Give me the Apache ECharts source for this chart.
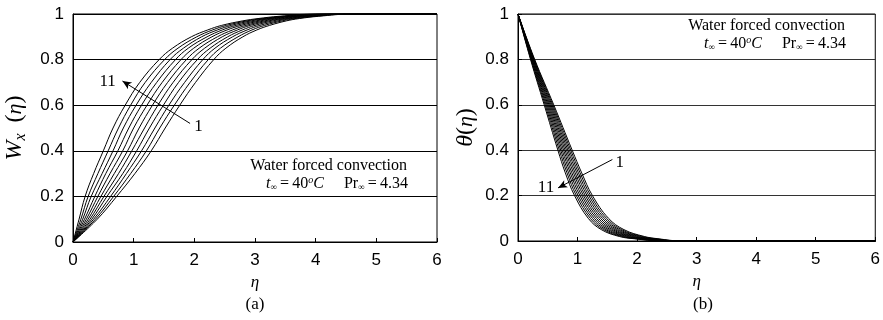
<!DOCTYPE html>
<html>
<head>
<meta charset="utf-8">
<script src="https://cdn.jsdelivr.net/npm/echarts@6/dist/echarts.min.js"></script>
<style>
  html, body { margin: 0; padding: 0; background: #fff; }
  #chart { width: 883px; height: 320px; }
</style>
</head>
<body>
<div id="chart"></div>
<script>
// (a) velocity W_x: eta where each curve (1 .. 11) reaches the W level
const wLevels = [0, 0.1, 0.2, 0.3, 0.4, 0.5, 0.6, 0.7, 0.8, 0.85, 0.9, 0.93, 0.95, 0.97, 0.98, 0.99, 1, 1];
const wxEtaByLevel = [
  [0, 0, 0, 0, 0, 0, 0, 0, 0, 0, 0],
  [0.40, 0.37, 0.34, 0.31, 0.28, 0.25, 0.22, 0.19, 0.16, 0.13, 0.10],
  [0.72, 0.67, 0.62, 0.56, 0.51, 0.46, 0.41, 0.36, 0.30, 0.25, 0.20],
  [1.02, 0.95, 0.88, 0.82, 0.75, 0.68, 0.61, 0.54, 0.48, 0.41, 0.34],
  [1.29, 1.21, 1.13, 1.05, 0.97, 0.90, 0.82, 0.74, 0.66, 0.58, 0.50],
  [1.52, 1.43, 1.35, 1.26, 1.18, 1.09, 1.00, 0.92, 0.83, 0.75, 0.66],
  [1.76, 1.67, 1.58, 1.49, 1.40, 1.31, 1.22, 1.13, 1.04, 0.95, 0.86],
  [2.02, 1.93, 1.84, 1.74, 1.65, 1.56, 1.47, 1.38, 1.29, 1.19, 1.10],
  [2.32, 2.23, 2.14, 2.05, 1.96, 1.87, 1.78, 1.69, 1.60, 1.51, 1.42],
  [2.52, 2.43, 2.34, 2.26, 2.17, 2.08, 1.99, 1.90, 1.82, 1.73, 1.64],
  [2.80, 2.72, 2.63, 2.55, 2.46, 2.38, 2.29, 2.21, 2.12, 2.04, 1.95],
  [3.03, 2.95, 2.87, 2.79, 2.71, 2.63, 2.54, 2.46, 2.38, 2.30, 2.22],
  [3.24, 3.16, 3.08, 3.00, 2.92, 2.85, 2.77, 2.69, 2.61, 2.53, 2.45],
  [3.52, 3.45, 3.38, 3.30, 3.23, 3.16, 3.09, 3.02, 2.94, 2.87, 2.80],
  [3.73, 3.66, 3.59, 3.53, 3.46, 3.39, 3.32, 3.25, 3.19, 3.12, 3.05],
  [4.05, 3.99, 3.92, 3.86, 3.79, 3.73, 3.66, 3.60, 3.53, 3.47, 3.40],
  [4.60, 4.54, 4.48, 4.42, 4.36, 4.30, 4.24, 4.18, 4.12, 4.06, 4.00],
  [6, 6, 6, 6, 6, 6, 6, 6, 6, 6, 6]
];

// (b) temperature theta: eta where each curve (1 .. 11) reaches the theta level
const thetaLevels = [1, 0.8, 0.6, 0.4, 0.3, 0.2, 0.1, 0.05, 0.02, 0.01, 0, 0];
const thetaEtaByLevel = [
  [0, 0, 0, 0, 0, 0, 0, 0, 0, 0, 0],
  [0.28, 0.273, 0.266, 0.259, 0.252, 0.245, 0.238, 0.231, 0.224, 0.217, 0.21],
  [0.60, 0.584, 0.568, 0.552, 0.536, 0.52, 0.504, 0.488, 0.472, 0.456, 0.44],
  [0.91, 0.886, 0.862, 0.838, 0.814, 0.79, 0.766, 0.742, 0.718, 0.694, 0.67],
  [1.07, 1.043, 1.015, 0.988, 0.96, 0.933, 0.905, 0.878, 0.85, 0.823, 0.795],
  [1.25, 1.22, 1.19, 1.16, 1.13, 1.10, 1.07, 1.04, 1.01, 0.98, 0.95],
  [1.52, 1.486, 1.452, 1.418, 1.384, 1.35, 1.316, 1.282, 1.248, 1.214, 1.18],
  [1.78, 1.742, 1.704, 1.666, 1.628, 1.59, 1.552, 1.514, 1.476, 1.438, 1.40],
  [2.12, 2.078, 2.036, 1.994, 1.952, 1.91, 1.868, 1.826, 1.784, 1.742, 1.70],
  [2.35, 2.31, 2.27, 2.23, 2.19, 2.15, 2.11, 2.07, 2.03, 1.99, 1.95],
  [2.75, 2.715, 2.68, 2.645, 2.61, 2.575, 2.54, 2.505, 2.47, 2.435, 2.40],
  [6, 6, 6, 6, 6, 6, 6, 6, 6, 6, 6]
];

const curveCount = 11;

// annotation arrows (tail -> head) and their numbers, in data units
const arrowA = [[1.93, 0.52], [0.815, 0.706]];
const labelsA = [{ name: "11", coord: [0.57, 0.706] }, { name: "1", coord: [2.07, 0.505] }];
const arrowB = [[1.585, 0.359], [0.673, 0.234]];
const labelsB = [{ name: "1", coord: [1.71, 0.344] }, { name: "11", coord: [0.47, 0.234] }];

const serif = "Liberation Serif";
const sans = "Liberation Sans";

const chart = echarts.init(document.getElementById("chart"));

const makeAxisX = (gridIndex) => ({
  type: "value",
  gridIndex,
  min: 0,
  max: 6,
  interval: 1,
  name: "η",
  nameLocation: "middle",
  nameGap: 30,
  nameTextStyle: { fontFamily: serif, fontStyle: "italic", fontSize: 17, color: "#000" },
  axisLine: { lineStyle: { color: "#000", width: 1 } },
  axisTick: { inside: true, length: 4, lineStyle: { color: "#000" } },
  axisLabel: { fontFamily: sans, fontSize: 17, color: "#000", margin: 10 },
  splitLine: { show: false },
});

const nameRich = {
  i: { fontFamily: serif, fontStyle: "italic", fontSize: 24, color: "#000" },
  s: { fontFamily: serif, fontStyle: "italic", fontSize: 16, color: "#000", padding: [12, 0, 0, 0] },
  n: { fontFamily: serif, fontSize: 24, color: "#000" },
  e: { fontFamily: serif, fontStyle: "italic", fontSize: 22, color: "#000" },
};

const makeAxisY = (gridIndex, name, gap, gridColor) => ({
  type: "value",
  gridIndex,
  min: 0,
  max: 1,
  interval: 0.2,
  name,
  nameLocation: "middle",
  nameGap: gap,
  nameRotate: 90,
  nameTextStyle: { fontFamily: serif, fontSize: 24, color: "#000", rich: nameRich },
  axisLine: { lineStyle: { color: "#000", width: 1 } },
  axisTick: { inside: true, length: 4, lineStyle: { color: "#000" } },
  axisLabel: { fontFamily: sans, fontSize: 17, color: "#000", margin: 9 },
  splitLine: { show: true, lineStyle: { color: gridColor, width: 1 } },
});

const curveSeries = (levels, table, axisIndex) =>
  Array.from({ length: curveCount }, (_, k) => ({
    type: "line",
    xAxisIndex: axisIndex,
    yAxisIndex: axisIndex,
    data: levels.map((v, i) => [table[i][k], v]),
    showSymbol: false,
    smooth: 0.4,
    lineStyle: { color: "#000", width: 1 },
    silent: true,
    z: 3,
  }));

const annotate = (series, arrow, labels) => {
  series.markLine = {
    silent: true,
    symbol: ["none", "arrow"],
    symbolSize: [6, 9],
    lineStyle: { color: "#000", width: 1, type: "solid" },
    label: { show: false },
    data: [[{ coord: arrow[0] }, { coord: arrow[1] }]],
  };
  series.markPoint = {
    silent: true,
    symbol: "circle",
    symbolSize: 0,
    label: {
      show: true,
      position: "inside",
      formatter: (p) => p.name,
      fontFamily: serif,
      fontSize: 17,
      color: "#000",
    },
    data: labels,
  };
  return series;
};

const seriesA = curveSeries(wLevels, wxEtaByLevel, 0);
const seriesB = curveSeries(thetaLevels, thetaEtaByLevel, 1);
annotate(seriesA[0], arrowA, labelsA);
annotate(seriesB[0], arrowB, labelsB);

const condRich = {
  i: { fontFamily: serif, fontStyle: "italic", fontSize: 16, fill: "#000" },
  n: { fontFamily: serif, fontSize: 16, fill: "#000" },
  s: { fontFamily: serif, fontSize: 9, fill: "#000", padding: [8, 0, 0, 0] },
  p: { fontFamily: serif, fontStyle: "italic", fontSize: 10, fill: "#000", padding: [0, 0, 8, 0] },
};
const condText = "{i|t}{s|∞}{n|\u2009=\u200940}{p|o}{i|C}{n|\u00a0\u00a0\u00a0\u00a0\u00a0Pr}{s|∞}{n|\u2009=\u20094.34}";

const textBlock = (x, y, align, content, extra) => ({
  type: "text",
  x,
  y,
  silent: true,
  style: Object.assign(
    { text: content, align, verticalAlign: "middle", fontFamily: serif, fontSize: 16, fill: "#000" },
    extra || {}
  ),
});

const option = {
  animation: false,
  backgroundColor: "#fff",
  grid: [
    { left: 73, top: 14, width: 364, height: 228, show: true, borderColor: "#000", borderWidth: 1 },
    { left: 518, top: 14, width: 361, height: 227, show: true, borderColor: "#000", borderWidth: 1 },
  ],
  xAxis: [makeAxisX(0), makeAxisX(1)],
  yAxis: [
    makeAxisY(0, "{i|W}{s|x}{n|\u2009 (}{e|η}{n|)}", 44, "#000"),
    makeAxisY(1, "{i|θ}{n|(}{e|η}{n|)}", 40, "#333"),
  ],
  graphic: [
    textBlock(407, 166, "right", "Water forced convection"),
    textBlock(408, 184, "right", condText, { rich: condRich }),
    textBlock(845, 26, "right", "Water forced convection"),
    textBlock(846, 44, "right", condText, { rich: condRich }),
    textBlock(255, 305, "center", "(a)", { fontSize: 17 }),
    textBlock(703, 305, "center", "(b)", { fontSize: 17 }),
  ],
  series: seriesA.concat(seriesB),
};

chart.setOption(option);
</script>
</body>
</html>
